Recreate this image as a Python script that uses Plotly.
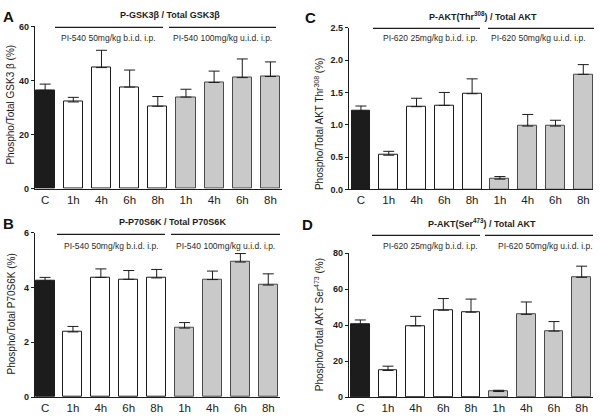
import plotly.graph_objects as go

# ---------------- data ----------------
categories = ["C", "1h", "4h", "6h", "8h", "1h", "4h", "6h", "8h"]
bar_groups = ["control", "low", "low", "low", "low", "high", "high", "high", "high"]

gsk_mean = [36.4, 32.1, 44.8, 37.6, 30.5, 33.9, 39.3, 41.1, 41.5]
gsk_err = [2.3, 1.7, 6.4, 6.3, 3.6, 2.9, 4.2, 6.9, 5.4]

p70_mean = [4.24, 2.38, 4.37, 4.30, 4.35, 2.52, 4.29, 4.93, 4.09]
p70_err = [0.13, 0.20, 0.31, 0.32, 0.31, 0.20, 0.31, 0.31, 0.41]

thr_mean = [1.21, 0.53, 1.28, 1.30, 1.48, 0.16, 0.98, 0.98, 1.78]
thr_err = [0.08, 0.06, 0.13, 0.20, 0.23, 0.04, 0.18, 0.09, 0.15]

ser_mean = [40.4, 14.8, 39.6, 48.3, 47.2, 3.1, 46.0, 36.7, 66.6]
ser_err = [2.5, 2.4, 5.3, 6.5, 7.3, 0.7, 6.9, 5.3, 6.2]

titles = ["P-GSK3β / Total GSK3β", "P-P70S6K / Total P70S6K",
          "P-AKT(Thr<sup>308</sup>) / Total AKT", "P-AKT(Ser<sup>473</sup>) / Total AKT"]
ytitles = ["Phospho/Total GSK3 β (%)", "Phospho/Total P70S6K (%)",
           "Phospho/Total AKT Thr<sup>308</sup> (%)", "Phospho/Total AKT Ser<sup>473</sup> (%)"]
dose_labels = [["PI-540 50mg/kg b.i.d. i.p.", "PI-540 100mg/kg u.i.d. i.p."],
               ["PI-540 50mg/kg b.i.d. i.p.", "PI-540 100mg/kg u.i.d. i.p."],
               ["PI-620 25mg/kg b.i.d. i.p.", "PI-620 50mg/kg u.i.d. i.p."],
               ["PI-620 25mg/kg b.i.d. i.p.", "PI-620 50mg/kg u.i.d. i.p."]]
panel_letters = ["A", "B", "C", "D"]
y_ticks = [[0, 20, 40, 60], [0, 2, 4, 6], [0, 0.5, 1.0, 1.5, 2.0, 2.5], [0, 20, 40, 60, 80]]

# ---------------- styling ----------------
W, H = 600, 419
FONT = "Arial, Liberation Sans, sans-serif"
fill_map = {"control": "#1c1c1c", "low": "#ffffff", "high": "#c9c9c9"}
line_map = {"control": "#1c1c1c", "low": "#1c1c1c", "high": "#4a4a4a"}


def PX(p):
    return p / W


def PY(p):
    return 1 - p / H


# layout geometry per panel (pixels)
panels = [
    dict(x0=35, x1=282, yb=188.3, yt=22, xr=[-0.36, 8.41], title_xy=(170, 10),
         lines=[(55, 163), (169, 276)], line_y=23, lab_x=[108, 222], lab_y=34,
         ytitle_xy=(11, 102), letter_xy=(8, 12)),
    dict(x0=35, x1=280, yb=401.7, yt=233.3, xr=[-0.36, 8.42], title_xy=(172, 222),
         lines=[(57, 165), (171, 280)], line_y=235, lab_x=[111, 225], lab_y=247,
         ytitle_xy=(11, 317), letter_xy=(8, 224)),
    dict(x0=349, x1=593, yb=189, yt=23.3, xr=[-0.43, 8.35], title_xy=(483, 11),
         lines=[(373, 480), (488, 594)], line_y=24, lab_x=[430, 538], lab_y=34,
         ytitle_xy=(319, 122), letter_xy=(310, 13)),
    dict(x0=349, x1=593, yb=401.7, yt=254.3, xr=[-0.41, 8.41], title_xy=(482, 223),
         lines=[(372, 480), (485, 593)], line_y=236, lab_x=[430, 545], lab_y=247,
         ytitle_xy=(319, 328), letter_xy=(307, 225)),
]

means = [gsk_mean, p70_mean, thr_mean, ser_mean]
errs = [gsk_err, p70_err, thr_err, ser_err]
y_ranges = [[0, 60], [0, 6], [0, 2.5], [0, 80]]

fig = go.Figure()
annotations = []
shapes = []
xpos = list(range(len(categories)))

for i, pan in enumerate(panels):
    sfx = "" if i == 0 else str(i + 1)
    fig.add_trace(go.Bar(
        x=xpos, y=means[i], width=0.68,
        marker=dict(color=[fill_map[g] for g in bar_groups],
                    line=dict(color=[line_map[g] for g in bar_groups], width=1)),
        error_y=dict(type="data", symmetric=False, array=errs[i],
                     arrayminus=[0] * len(errs[i]), color="#1c1c1c",
                     thickness=1, width=5.5),
        xaxis="x" + sfx, yaxis="y" + sfx, showlegend=False,
    ))
    fig.update_layout(**{
        "xaxis" + sfx: dict(domain=[PX(pan["x0"]), PX(pan["x1"])], range=pan["xr"],
                            anchor="y" + sfx, tickvals=xpos, ticktext=categories,
                            showline=True, linecolor="#1c1c1c", linewidth=1.2,
                            ticks="", showgrid=False, zeroline=False,
                            tickfont=dict(family=FONT, size=11.5, color="#222222"),
                            fixedrange=True),
        "yaxis" + sfx: dict(domain=[PY(pan["yb"]), PY(pan["yt"])], range=y_ranges[i],
                            anchor="x" + sfx, tickvals=y_ticks[i],
                            tickformat=".1f" if i == 2 else "d",
                            showline=True, linecolor="#1c1c1c", linewidth=1.2,
                            ticks="outside", ticklen=3, tickcolor="#1c1c1c",
                            showgrid=False, zeroline=False,
                            tickfont=dict(family=FONT, size=9, color="#1c1c1c", weight="bold"),
                            fixedrange=True),
    })
    # title
    annotations.append(dict(x=PX(pan["title_xy"][0]), y=PY(pan["title_xy"][1]),
                            xref="paper", yref="paper", text="<b>" + titles[i] + "</b>",
                            showarrow=False, xanchor="center", yanchor="middle",
                            font=dict(family=FONT, size=9, color="#1c1c1c")))
    # dose labels + header lines
    for k in range(2):
        annotations.append(dict(x=PX(pan["lab_x"][k]), y=PY(pan["lab_y"]),
                                xref="paper", yref="paper", text=dose_labels[i][k],
                                showarrow=False, xanchor="center", yanchor="middle",
                                font=dict(family=FONT, size=8.5, color="#2a2a2a")))
        shapes.append(dict(type="line", xref="paper", yref="paper",
                           x0=PX(pan["lines"][k][0]), x1=PX(pan["lines"][k][1]),
                           y0=PY(pan["line_y"]), y1=PY(pan["line_y"]),
                           line=dict(color="#1c1c1c", width=1.2)))
    # y title
    annotations.append(dict(x=PX(pan["ytitle_xy"][0]), y=PY(pan["ytitle_xy"][1]),
                            xref="paper", yref="paper", text=ytitles[i], textangle=-90,
                            showarrow=False, xanchor="center", yanchor="middle",
                            font=dict(family=FONT, size=10, color="#1c1c1c")))
    # panel letter
    annotations.append(dict(x=PX(pan["letter_xy"][0]), y=PY(pan["letter_xy"][1]),
                            xref="paper", yref="paper", text="<b>" + panel_letters[i] + "</b>",
                            showarrow=False, xanchor="center", yanchor="middle",
                            font=dict(family=FONT, size=15, color="#111111")))

fig.update_layout(width=W, height=H, margin=dict(l=0, r=0, t=0, b=0),
                  paper_bgcolor="white", plot_bgcolor="white",
                  annotations=annotations, shapes=shapes, bargap=0)

fig.write_html("out.html", config={"displayModeBar": False},
               post_script="document.body.style.margin='0';document.body.style.overflow='hidden';")
